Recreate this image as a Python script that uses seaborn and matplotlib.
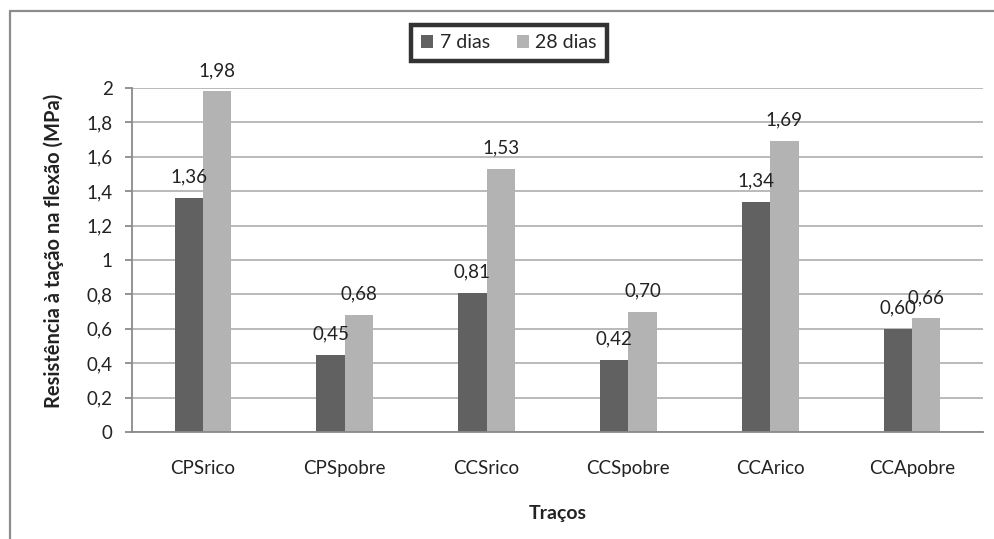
import matplotlib
matplotlib.use("Agg")
import matplotlib.pyplot as plt
from matplotlib.lines import Line2D
from matplotlib.patches import Patch
from matplotlib.ticker import FuncFormatter, MultipleLocator
import seaborn as sns
import pandas as pd

categories = ["CPSrico", "CPSpobre", "CCSrico", "CCSpobre", "CCArico", "CCApobre"]
series_names = ["7 dias", "28 dias"]
dias7 = [1.36, 0.45, 0.81, 0.42, 1.34, 0.60]
dias28 = [1.98, 0.68, 1.53, 0.70, 1.69, 0.66]
colors = ["#616161", "#b3b3b3"]

df = pd.DataFrame({
    "Traço": categories * 2,
    "Série": [series_names[0]] * len(categories) + [series_names[1]] * len(categories),
    "Valor": dias7 + dias28,
})

sns.set_theme(style="white")
plt.rcParams["font.family"] = ["Lato", "DejaVu Sans"]

W, H = 994, 539
fs = 13.5
txt = "#222222"
fig = plt.figure(figsize=(W / 100, H / 100), dpi=100)
ax = fig.add_axes([132 / W, 1 - 432 / H, (983 - 132) / W, (432 - 88) / H])

sns.barplot(data=df, x="Traço", y="Valor", hue="Série", palette=colors,
            width=0.4, gap=0, saturation=1, ax=ax, legend=False, errorbar=None)

for cont in ax.containers:
    for bar in cont:
        bar.set_edgecolor("none")
    ax.bar_label(cont, labels=[f"{b.get_height():.2f}".replace(".", ",") for b in cont],
                 padding=9, fontsize=fs, color=txt)

ax.set_ylim(0, 2)
ax.set_xlim(-0.5, len(categories) - 0.5)
ax.yaxis.set_major_locator(MultipleLocator(0.2))
ax.yaxis.set_major_formatter(FuncFormatter(lambda v, p: f"{v:.1f}".rstrip("0").rstrip(".").replace(".", ",")))
ax.grid(axis="y", color="#b4b4b4", linewidth=1.3)
ax.set_axisbelow(True)
for s in ["top", "right"]:
    ax.spines[s].set_visible(False)
for s in ["left", "bottom"]:
    ax.spines[s].set_color("#8a8a8a")
    ax.spines[s].set_linewidth(1.3)
ax.tick_params(axis="y", which="major", left=True, length=5, width=1.3, color="#8a8a8a",
               labelsize=fs, labelcolor=txt, pad=9)
ax.tick_params(axis="x", bottom=False, labelsize=fs, labelcolor=txt, pad=14)

ax.set_xlabel("Traços", fontsize=14, fontweight="bold", color=txt, labelpad=20)
ax.set_ylabel("Resistência à tação na flexão (MPa)", fontsize=14.5, fontweight="bold",
              color=txt, labelpad=12)
ax.yaxis.set_label_coords(64 / W, 1 - 251 / H, transform=fig.transFigure)

handles = [Patch(facecolor=c, edgecolor="none", label=n) for c, n in zip(colors, series_names)]
leg = fig.legend(handles=handles, loc="center", bbox_to_anchor=(509 / W, 1 - 43 / H),
                 ncol=2, frameon=True, fontsize=14, handlelength=0.6, handleheight=0.6,
                 handletextpad=0.35, columnspacing=1.4, borderpad=0.5, fancybox=False,
                 borderaxespad=0)
leg.get_frame().set_edgecolor("black")
leg.get_frame().set_linewidth(3.2)

fig.add_artist(Line2D([10 / W, 1], [1 - 11 / H, 1 - 11 / H], color="#8c8c8c", linewidth=1.6,
                      transform=fig.transFigure))
fig.add_artist(Line2D([10 / W, 10 / W], [1 - 11 / H, 0], color="#8c8c8c", linewidth=1.6,
                      transform=fig.transFigure))

fig.savefig("out.png", dpi=100)
